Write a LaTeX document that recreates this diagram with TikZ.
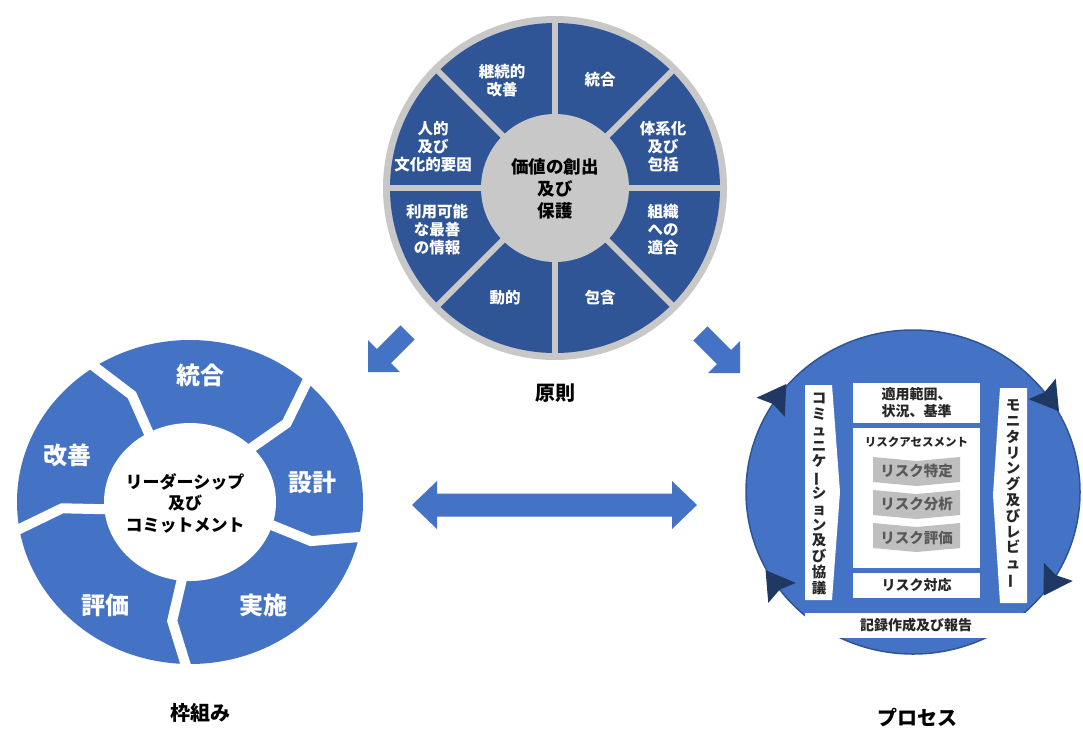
\documentclass[tikz,border=0pt]{standalone}
\usepackage{fontspec}
\setmainfont{Noto Sans CJK JP}
\usepackage{graphicx}
\definecolor{pnavy}{HTML}{2F5597}
\definecolor{lblue}{HTML}{4472C4}
\definecolor{pgray}{HTML}{C8C8C8}
\definecolor{hnavy}{HTML}{1F3864}
\definecolor{bgray}{HTML}{BFBFBF}
\definecolor{tgray}{HTML}{595959}
\definecolor{tdark}{HTML}{262626}
\newcommand\jpvbar{\rotatebox[origin=c]{90}{ー}}
\tikzset{
  every node/.style={inner sep=0pt, align=center},
  toplab/.style={text=white, font=\bfseries\fontsize{15.5}{18}\selectfont},
  seglab/.style={text=white, font=\bfseries\fontsize{24}{27}\selectfont},
  title/.style={text=black, font=\bfseries\fontsize{20}{24}\selectfont},
  wbox/.style={fill=white, draw=none, rectangle},
  boxtext/.style={text=tdark, font=\bfseries\fontsize{14}{17}\selectfont},
  graytext/.style={text=tgray, font=\bfseries\fontsize{14.5}{17}\selectfont},
  vtext/.style={text=tdark, font=\bfseries\fontsize{14.5}{15.8}\selectfont},
  blockfill/.style={fill=lblue, draw=none},
  gapline/.style={white, line width=10, line join=miter},
  headtri/.style={fill=hnavy},
}
\begin{document}
\begin{tikzpicture}[x=1pt,y=1pt]
\useasboundingbox (0,0) rectangle (1083,-732);
\fill[white] (0,0) rectangle (1083,-732);

% ---------------- Top circle: principles ----------------
\begin{scope}[shift={(555,-188)}]
  \fill[pgray] (0,0) circle (172);
  \fill[pnavy] (0,0) circle (165);
  \foreach \a in {0,45,90,135}
    \draw[pgray, line width=6] (\a:166) -- (\a+180:166);
  \fill[pgray] (0,0) circle (74);
\end{scope}
\node[font=\bfseries\fontsize{17.5}{21.7}\selectfont, text=black] (pc) at (555,-189) {価値の創出\\及び\\保護};
\node[toplab] (t1) at (502,-81) {継続的\\改善};
\node[toplab] (t2) at (600,-80) {統合};
\node[toplab] (t3) at (663,-147) {体系化\\及び\\包括};
\node[toplab] (t4) at (663,-230) {組織\\への\\適合};
\node[toplab] (t5) at (600,-298) {包含};
\node[toplab] (t6) at (505,-298) {動的};
\node[toplab] (t7) at (437,-230) {利用可能\\な最善\\の情報};
\node[toplab] (t8) at (433,-147) {人的\\及び\\文化的要因};
\node[title] (pr) at (555,-393) {原則};

% ---------------- Left circle: framework ----------------
\begin{scope}[shift={(190,-502)}]
  \fill[lblue] (0,0) ellipse [x radius=173, y radius=162];
  \foreach \g in {122,46,-14,-93,188}
    \draw[gapline] (\g:60 and 56) -- (\g-5:128 and 120) -- (\g+4:200 and 188);
  \fill[white] (0,0) ellipse [x radius=86, y radius=79];
\end{scope}
\node[seglab] (l1) at (200,-375) {統合};
\node[seglab] (l2) at (312,-482) {設計};
\node[seglab] (l3) at (263,-605) {実施};
\node[seglab] (l4) at (105,-605) {評価};
\node[seglab] (l5) at (67,-455) {改善};
\node[font=\bfseries\fontsize{17}{21.5}\selectfont, text=black] (lc) at (185,-503) {リーダーシップ\\及び\\コミットメント};
\node[title] (fw) at (200,-713) {枠組み};

% ---------------- Right circle: process ----------------
\begin{scope}[shift={(913,-492)}]
  \fill[lblue] (0,0) ellipse [x radius=167, y radius=162];
  \draw[pnavy, line width=1.5] (0,0) ellipse [x radius=167, y radius=162];
  \foreach \t in {146,37,-32,216}{
    \begin{scope}[shift={(\t:167 and 162)}, rotate={\t-90}]
      \fill[headtri] (21,0) -- (-7,17) -- (-3,0) -- (-7,-17) -- cycle;
    \end{scope}
  }
\end{scope}
% side bars
\fill[white] (805,-385) -- (832,-385) -- (840,-492) -- (832,-600) -- (805,-600) -- cycle;
\fill[white] (1000,-388) -- (1027,-388) -- (1027,-603) -- (1000,-603) -- (993,-495) -- cycle;
\node[vtext] (cb) at (819,-494) {コ\\ミ\\ュ\\ニ\\ケ\\\jpvbar\\シ\\ョ\\ン\\及\\び\\協\\議};
\node[vtext] (mb) at (1013,-494) {モ\\ニ\\タ\\リ\\ン\\グ\\及\\び\\レ\\ビ\\ュ\\\jpvbar};
% boxes
\node[wbox, minimum width=127, minimum height=40] (sc) at (916.5,-403) {};
\node[boxtext] (sct) at (916.5,-403) {適用範囲、\\状況、基準};
\node[wbox, minimum width=127, minimum height=140] (ra) at (916.5,-498) {};
\node[text=tdark, font=\bfseries\fontsize{11.5}{14}\selectfont] (rat) at (916.5,-442) {リスクアセスメント};
\foreach \yt/\yb/\nm/\tx in {457/486/ri/リスク特定, 490/519/rn/リスク分析, 523/552/re/リスク評価}{
  \fill[bgray] (873,-\yt) -- (916.5,-\yt-4) -- (960,-\yt) -- (960,-\yb+4) -- (916.5,-\yb) -- (873,-\yb+4) -- cycle;
  \node[graytext] (\nm) at (916.5,{-(\yt+\yb)/2}) {\tx};
}
\node[wbox, minimum width=127, minimum height=25] (rt) at (916.5,-585.5) {};
\node[boxtext] (rtt) at (916.5,-585.5) {リスク対応};
\node[wbox, minimum width=222, minimum height=25] (rr) at (916,-625.5) {};
\node[boxtext] (rrt) at (916,-625.5) {記録作成及び報告};
\node[title] (ps) at (917,-717) {プロセス};

% ---------------- Block arrows ----------------
\begin{scope}[shift={(368,-372)}, rotate=225]
  \fill[blockfill] (0,0) -- (-22.5,22.5) -- (-22.5,10) -- (-56,10) -- (-56,-10) -- (-22.5,-10) -- (-22.5,-22.5) -- cycle;
\end{scope}
\begin{scope}[shift={(740,-373)}, rotate=-45]
  \fill[blockfill] (0,0) -- (-22.5,22.5) -- (-22.5,10) -- (-56,10) -- (-56,-10) -- (-22.5,-10) -- (-22.5,-22.5) -- cycle;
\end{scope}
\fill[blockfill] (412,-505) -- (437,-481) -- (437,-493.5) -- (672,-493.5) -- (672,-481) -- (697,-505)
  -- (672,-529) -- (672,-516.5) -- (437,-516.5) -- (437,-529) -- cycle;
\end{tikzpicture}
\end{document}
